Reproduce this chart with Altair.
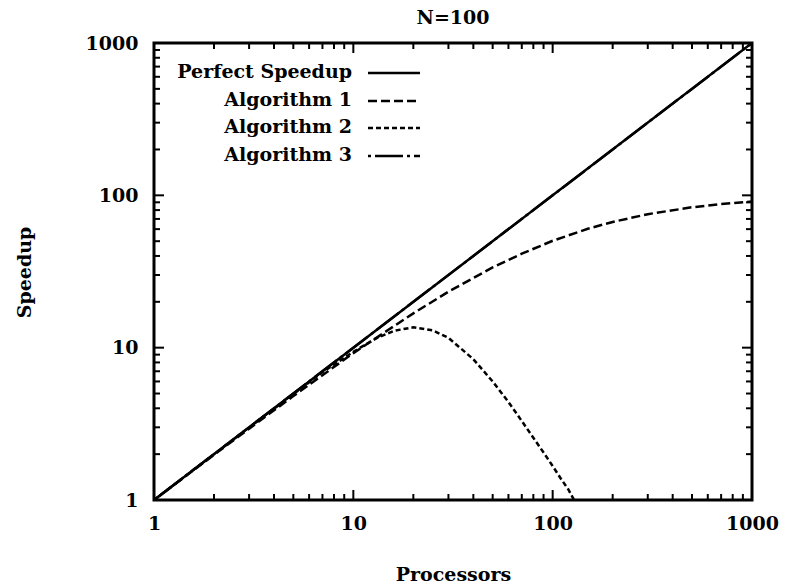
import altair as alt
import pandas as pd

# ---------------- data ----------------
perfect_p = [1, 10, 100, 1000]
perfect_s = [1, 10, 100, 1000]

alg1_p = [1, 2, 3, 5, 7, 10, 15, 20, 30, 50, 70, 100, 150, 200, 300, 500, 700, 1000]
alg1_s = [1, 1.98, 2.94, 4.81, 6.6, 9.2, 13.1, 16.8, 23.3, 33.6, 41.4, 50.3, 60.3, 66.9, 75.2, 83.5, 87.6, 91.0]

alg2_p = [1, 2, 3, 5, 7, 10, 13, 16, 20, 25, 30, 40, 50, 60, 70, 80, 90, 100, 110, 120, 128]
alg2_s = [1, 2.0, 3.0, 4.96, 6.9, 9.4, 11.5, 12.9, 13.6, 13.0, 11.6, 8.4, 6.0, 4.4, 3.3, 2.56, 2.05, 1.67, 1.38, 1.17, 1.0]

alg3_p = [1, 10, 100, 1000]
alg3_s = [1, 10, 100, 1000]

legend_labels = ["Perfect Speedup", "Algorithm 1", "Algorithm 2", "Algorithm 3"]
axis_values = [1, 10, 100, 1000]
major_ticks = [1, 10, 100, 1000]
minor_ticks = [2, 3, 4, 5, 6, 7, 8, 9,
               20, 30, 40, 50, 60, 70, 80, 90,
               200, 300, 400, 500, 600, 700, 800, 900]

# ---------------- style ----------------
W, H = 598, 457
FONT = "DejaVu Serif"
FS = 19
dashes = [None, [9, 4], [5, 3], [3, 4, 28, 4]]
LW = 2.5

xs = alt.Scale(type="log", domain=[1, 1000], nice=False)
ys = alt.Scale(type="log", domain=[1, 1000], nice=False)

common_axis = dict(values=axis_values, format="d", grid=False, domain=False, ticks=False,
                   tickSize=0, labelFont=FONT, labelFontSize=FS, labelFontWeight="bold",
                   labelColor="black", labelFlush=False, labelOverlap=False,
                   titleFont=FONT, titleFontSize=FS, titleFontWeight="bold",
                   titleColor="black", titleAlign="center", titleBaseline="middle")

xaxis = alt.Axis(title="Processors", labelPadding=14, titleX=299, titleY=74, **common_axis)
yaxis = alt.Axis(title="Speedup", labelPadding=16, titleX=-130, titleY=229, titleAngle=270,
                 **common_axis)


def X(field):
    return alt.X(field, type="quantitative", scale=xs, axis=xaxis)


def Y(field):
    return alt.Y(field, type="quantitative", scale=ys, axis=yaxis)


def mark_kwargs(dash):
    kw = dict(color="black", strokeWidth=LW, clip=True)
    if dash is not None:
        kw["strokeDash"] = dash
    return kw


series = [(perfect_p, perfect_s), (alg1_p, alg1_s), (alg2_p, alg2_s), (alg3_p, alg3_s)]
layers = []
for (p, s), dash in zip(series, dashes):
    df = pd.DataFrame({"p": p, "s": s})
    layers.append(alt.Chart(df).mark_line(**mark_kwargs(dash)).encode(x=X("p"), y=Y("s")))

# inward ticks on all four sides
maj = pd.DataFrame({"v": major_ticks})
mnr = pd.DataFrame({"v": minor_ticks})
for df, ln in [(maj, 10), (mnr, 6)]:
    layers.append(alt.Chart(df).mark_rule(color="black", strokeWidth=2).encode(
        x=X("v"), y=alt.value(H), y2=alt.value(H - ln)))
    layers.append(alt.Chart(df).mark_rule(color="black", strokeWidth=2).encode(
        x=X("v"), y=alt.value(0), y2=alt.value(ln)))
    layers.append(alt.Chart(df).mark_rule(color="black", strokeWidth=2).encode(
        y=Y("v"), x=alt.value(0), x2=alt.value(ln)))
    layers.append(alt.Chart(df).mark_rule(color="black", strokeWidth=2).encode(
        y=Y("v"), x=alt.value(W), x2=alt.value(W - ln)))

# legend (key inside plot, top-left)
leg_y = [30, 58, 85, 113]
for lab, dash, ly in zip(legend_labels, dashes, leg_y):
    ldf = pd.DataFrame({"t": [lab]})
    layers.append(alt.Chart(ldf).mark_text(align="right", baseline="middle", font=FONT,
                                           fontSize=FS, fontWeight="bold", color="black").encode(
        text="t:N", x=alt.value(198), y=alt.value(ly - 1)))
    layers.append(alt.Chart(ldf).mark_rule(**mark_kwargs(dash)).encode(
        x=alt.value(214), x2=alt.value(266), y=alt.value(ly)))

chart = alt.layer(*layers).properties(
    width=W, height=H,
    title=alt.TitleParams("N=100", font=FONT, fontSize=FS, fontWeight="bold", color="black",
                          offset=6, anchor="middle"),
    autosize=alt.AutoSizeParams(type="none"),
    padding={"left": 154, "top": 43, "right": 37, "bottom": 84},
).configure_view(stroke="black", strokeWidth=3)

chart.save("out.html", embed_options={"renderer": "svg", "actions": False})
